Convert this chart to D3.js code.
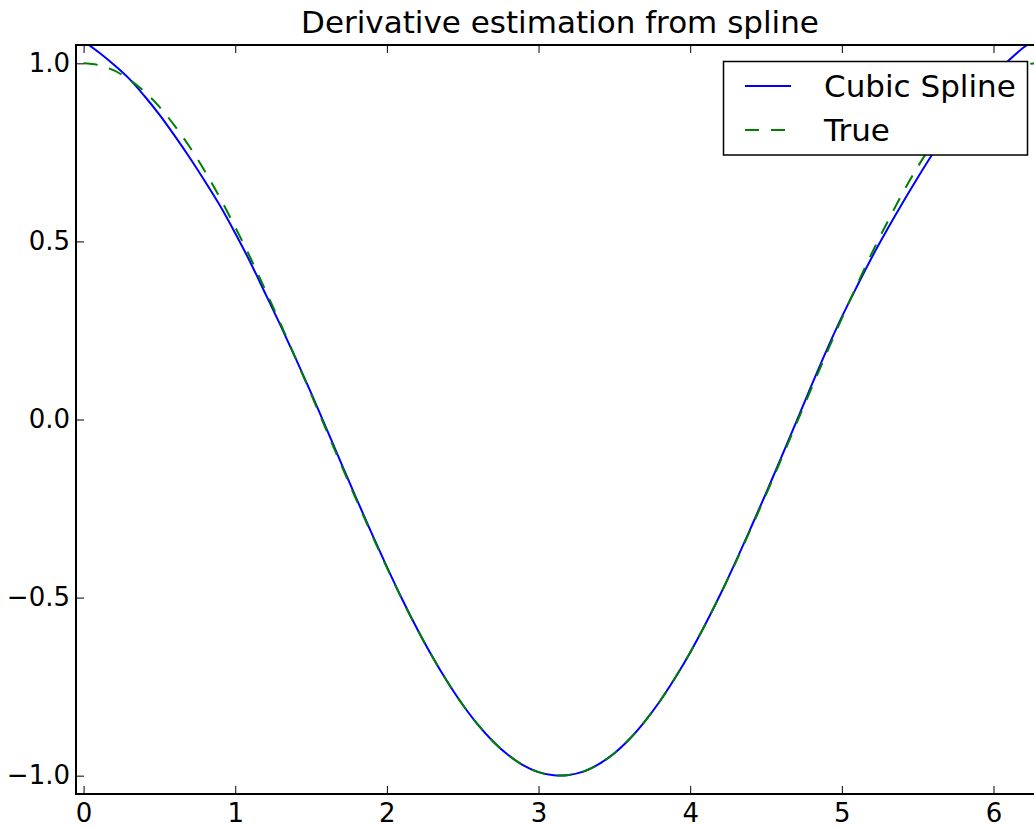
<!DOCTYPE html>
<html>
<head>
<meta charset="utf-8">
<script src="https://cdn.jsdelivr.net/npm/d3@7"></script>
<style>
  html, body { margin: 0; padding: 0; background: #fff; }
  svg { display: block; font-family: "DejaVu Sans", sans-serif; }
</style>
</head>
<body>
<svg id="chart" width="1034" height="827"></svg>
<script>
const title = "Derivative estimation from spline";
const seriesNames = ["Cubic Spline", "True"];
const xTicks = [0, 1, 2, 3, 4, 5, 6];
const yTicks = [-1.0, -0.5, 0.0, 0.5, 1.0];
const xs = [0.0,0.1,0.2,0.3,0.4,0.5,0.6,0.7,0.8,0.9,1.0,1.1,1.2,1.3,1.4,1.5,1.6,1.7,1.8,1.9,
  2.0,2.1,2.2,2.3,2.4,2.5,2.6,2.7,2.8,2.9,3.0,3.1,3.2,3.3,3.4,3.5,3.6,3.7,3.8,3.9,
  4.0,4.1,4.2,4.3,4.4,4.5,4.6,4.7,4.8,4.9,5.0,5.1,5.2,5.3,5.4,5.5,5.6,5.7,5.8,5.9,
  6.0,6.1,6.2,6.283];
const splineValues = [1.062,1.031,0.996,0.957,0.909,0.856,0.797,0.735,0.669,0.600,
  0.523,0.441,0.352,0.263,0.170,0.075,-0.024,-0.124,-0.223,-0.320,
  -0.414,-0.504,-0.588,-0.666,-0.737,-0.801,-0.857,-0.904,-0.942,-0.971,
  -0.990,-0.999,-0.998,-0.988,-0.967,-0.937,-0.897,-0.848,-0.791,-0.726,
  -0.654,-0.575,-0.490,-0.399,-0.304,-0.207,-0.107,-0.006,0.096,0.195,
  0.288,0.374,0.457,0.534,0.608,0.679,0.747,0.810,0.868,0.920,
  0.965,1.008,1.045,1.068];
const trueValues = [1.000,0.995,0.980,0.955,0.921,0.878,0.825,0.765,0.697,0.622,
  0.540,0.454,0.362,0.268,0.170,0.071,-0.029,-0.129,-0.227,-0.323,
  -0.416,-0.505,-0.589,-0.666,-0.737,-0.801,-0.857,-0.904,-0.942,-0.971,
  -0.990,-0.999,-0.998,-0.988,-0.967,-0.937,-0.897,-0.848,-0.791,-0.726,
  -0.654,-0.575,-0.490,-0.401,-0.307,-0.211,-0.112,-0.012,0.088,0.187,
  0.284,0.378,0.469,0.554,0.635,0.709,0.776,0.835,0.886,0.928,
  0.960,0.983,0.997,1.000];

const svg = d3.select("#chart");
const L = 76, R = 1044, T = 45, B = 794;
const x = d3.scaleLinear().domain([-0.05, 6.333]).range([L, R]);
const y = d3.scaleLinear().domain([-1.0515, 1.0515]).range([B, T]);

svg.append("defs").append("clipPath").attr("id", "clip")
  .append("rect").attr("x", L).attr("y", T).attr("width", R - L).attr("height", B - T);

const plot = svg.append("g").attr("clip-path", "url(#clip)");
const line = vals => d3.line().x((d, i) => x(xs[i])).y(d => y(d)).curve(d3.curveCatmullRom)(vals);

plot.append("path").attr("d", line(splineValues)).attr("fill", "none")
  .attr("stroke", "#0000ff").attr("stroke-width", 2);
plot.append("path").attr("d", line(trueValues)).attr("fill", "none")
  .attr("stroke", "#008000").attr("stroke-width", 2).attr("stroke-dasharray", "14,12");

// axes (classic: inward ticks on all sides)
const fmtY = d3.format(".1f");
const axB = svg.append("g").attr("transform", `translate(0,${B})`)
  .call(d3.axisBottom(x).tickValues(xTicks).tickFormat(d3.format("d")).tickSizeInner(-8).tickSizeOuter(0).tickPadding(10));
const axT = svg.append("g").attr("transform", `translate(0,${T})`)
  .call(d3.axisTop(x).tickValues(xTicks).tickFormat("").tickSizeInner(-8).tickSizeOuter(0));
const axL = svg.append("g").attr("transform", `translate(${L},0)`)
  .call(d3.axisLeft(y).tickValues(yTicks).tickFormat(fmtY).tickSizeInner(-8).tickSizeOuter(0).tickPadding(6));
const axR = svg.append("g").attr("transform", `translate(${R},0)`)
  .call(d3.axisRight(y).tickValues(yTicks).tickFormat("").tickSizeInner(-8).tickSizeOuter(0));
[axB, axT, axL, axR].forEach(a => {
  a.select(".domain").remove();
  a.selectAll(".tick line").attr("stroke", "#000").attr("stroke-width", 1);
  a.selectAll("text").attr("font-size", 26).attr("font-family", "DejaVu Sans").attr("fill", "#000");
});

svg.append("rect").attr("x", L).attr("y", T).attr("width", R - L).attr("height", B - T)
  .attr("fill", "none").attr("stroke", "#000").attr("stroke-width", 2);

svg.append("text").attr("x", (L + R) / 2).attr("y", 33).attr("text-anchor", "middle")
  .attr("font-size", 31).attr("fill", "#000").text(title);

// legend
const lg = svg.append("g");
lg.append("rect").attr("x", 723.5).attr("y", 61.5).attr("width", 304).attr("height", 93.5)
  .attr("fill", "#fff").attr("stroke", "#000").attr("stroke-width", 1.5);
lg.append("line").attr("x1", 745).attr("x2", 791).attr("y1", 86).attr("y2", 86)
  .attr("stroke", "#0000ff").attr("stroke-width", 2);
lg.append("line").attr("x1", 745).attr("x2", 791).attr("y1", 130).attr("y2", 130)
  .attr("stroke", "#008000").attr("stroke-width", 2).attr("stroke-dasharray", "14,12");
lg.append("text").attr("x", 824).attr("y", 97).attr("font-size", 31).text(seriesNames[0]);
lg.append("text").attr("x", 824).attr("y", 141).attr("font-size", 31).text(seriesNames[1]);
</script>
</body>
</html>
